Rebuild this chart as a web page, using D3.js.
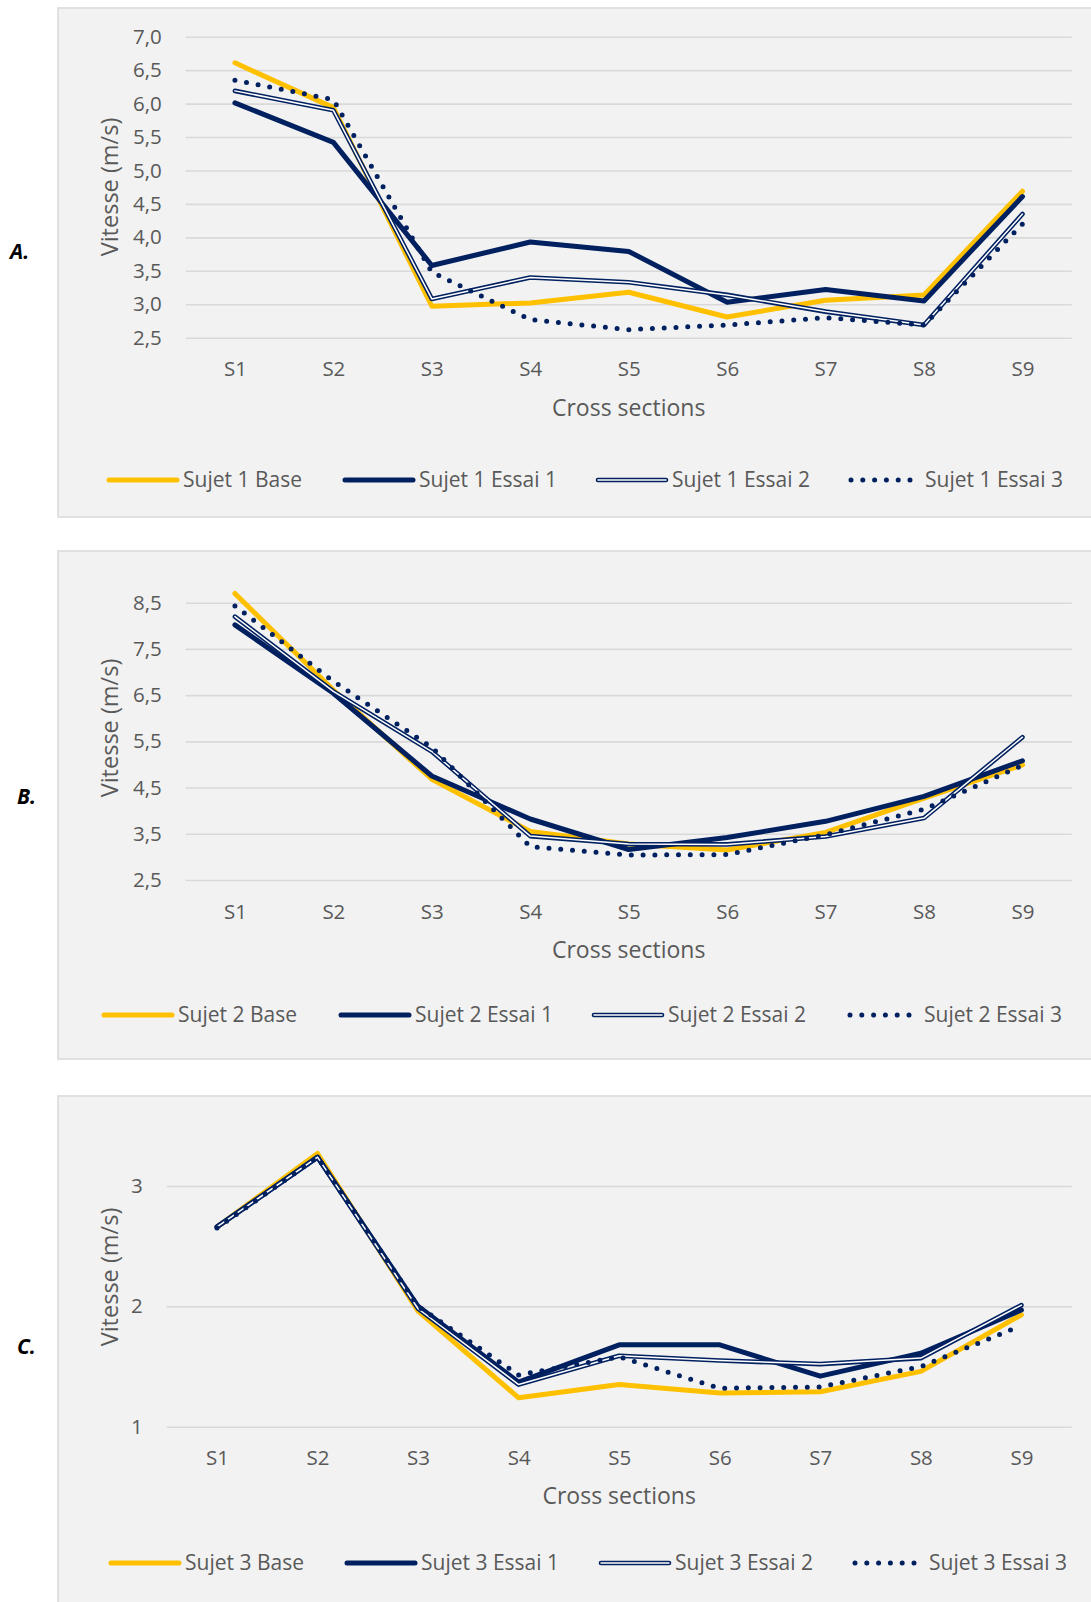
<!DOCTYPE html>
<html>
<head>
<meta charset="utf-8">
<script src="https://cdn.jsdelivr.net/npm/d3@7"></script>
<style>
  html, body { margin: 0; padding: 0; background: #ffffff; }
  svg { display: block; }
  text { font-family: "Open Sans", "Noto Sans", sans-serif; fill: #595959; }
</style>
</head>
<body>
<svg id="chart" width="1091" height="1602"></svg>
<script>
// ---------- DATA ----------
const categories = ["S1", "S2", "S3", "S4", "S5", "S6", "S7", "S8", "S9"];
const seriesKinds = ["Base", "Essai 1", "Essai 2", "Essai 3"];

const sujet1Base   = [6.61, 5.94, 2.97, 3.02, 3.18, 2.81, 3.06, 3.14, 4.69];
const sujet1Essai1 = [6.01, 5.42, 3.58, 3.93, 3.79, 3.03, 3.22, 3.05, 4.61];
const sujet1Essai2 = [6.19, 5.90, 3.08, 3.40, 3.33, 3.14, 2.89, 2.69, 4.35];
const sujet1Essai3 = [6.35, 6.06, 3.48, 2.77, 2.62, 2.69, 2.80, 2.69, 4.20];

const sujet2Base   = [8.70, 6.61, 4.68, 3.55, 3.28, 3.15, 3.53, 4.27, 4.99];
const sujet2Essai1 = [8.02, 6.54, 4.75, 3.82, 3.16, 3.42, 3.77, 4.31, 5.08];
const sujet2Essai2 = [8.20, 6.58, 5.28, 3.45, 3.28, 3.27, 3.44, 3.84, 5.59];
const sujet2Essai3 = [8.43, 6.80, 5.37, 3.22, 3.04, 3.05, 3.48, 4.03, 4.98];

const sujet3Base   = [2.66, 3.27, 1.96, 1.24, 1.35, 1.28, 1.29, 1.46, 1.93];
const sujet3Essai1 = [2.66, 3.24, 2.00, 1.37, 1.68, 1.68, 1.42, 1.61, 1.97];
const sujet3Essai2 = [2.66, 3.24, 1.98, 1.35, 1.59, 1.55, 1.52, 1.57, 2.01];
const sujet3Essai3 = [2.65, 3.24, 2.00, 1.43, 1.58, 1.32, 1.33, 1.50, 1.84];

const ticksA = [2.5, 3.0, 3.5, 4.0, 4.5, 5.0, 5.5, 6.0, 6.5, 7.0];
const ticksB = [2.5, 3.5, 4.5, 5.5, 6.5, 7.5, 8.5];
const ticksC = [1, 2, 3];

const yTitle = "Vitesse (m/s)";
const xTitle = "Cross sections";

// ---------- STYLE ----------
const YELLOW = "#FFC000";
const NAVY = "#002060";
const GRID = "#D9D9D9";
const BG = "#F2F2F2";

const svg = d3.select("#chart");

const panels = [
  { letter: "A.", subject: 1, series: [sujet1Base, sujet1Essai1, sujet1Essai2, sujet1Essai3],
    ticks: ticksA, fmt: v => d3.format(".1f")(v).replace(".", ","),
    box: [58, 8, 1100, 517], left: 185.7, right: 1071.7,
    yDomain: [2.5, 7.0], yRange: [337.7, 36.7],
    yTitleY: 187, xTitleY: 408, letterX: 10, letterY: 252,
    legendY: 480, legendX: [107, 343, 596, 849] },
  { letter: "B.", subject: 2, series: [sujet2Base, sujet2Essai1, sujet2Essai2, sujet2Essai3],
    ticks: ticksB, fmt: v => d3.format(".1f")(v).replace(".", ","),
    box: [58, 551, 1100, 1059], left: 185.7, right: 1071.7,
    yDomain: [2.5, 8.5], yRange: [880.0, 602.7],
    yTitleY: 728, xTitleY: 950, letterX: 17, letterY: 797,
    legendY: 1015, legendX: [102, 339, 592, 848] },
  { letter: "C.", subject: 3, series: [sujet3Base, sujet3Essai1, sujet3Essai2, sujet3Essai3],
    ticks: ticksC, fmt: v => d3.format("d")(v),
    box: [58, 1096, 1100, 1640], left: 166.7, right: 1071.7,
    yDomain: [1, 3], yRange: [1426.7, 1186.0],
    yTitleY: 1277, xTitleY: 1496, letterX: 17, letterY: 1347,
    legendY: 1563, legendX: [109, 345, 599, 853] }
];

function drawSeriesPath(g, d, kind) {
  if (kind === 0) {
    g.append("path").attr("d", d).attr("fill", "none").attr("stroke", YELLOW)
      .attr("stroke-width", 5).attr("stroke-linejoin", "round").attr("stroke-linecap", "round");
  } else if (kind === 1) {
    g.append("path").attr("d", d).attr("fill", "none").attr("stroke", NAVY)
      .attr("stroke-width", 5).attr("stroke-linejoin", "round").attr("stroke-linecap", "round");
  } else if (kind === 2) {
    g.append("path").attr("d", d).attr("fill", "none").attr("stroke", NAVY)
      .attr("stroke-width", 4.6).attr("stroke-linejoin", "round").attr("stroke-linecap", "round");
    g.append("path").attr("d", d).attr("fill", "none").attr("stroke", "#ffffff")
      .attr("stroke-width", 1.5).attr("stroke-linejoin", "round").attr("stroke-linecap", "round");
  } else {
    g.append("path").attr("d", d).attr("fill", "none").attr("stroke", NAVY)
      .attr("stroke-width", 5).attr("stroke-dasharray", "0 11.8").attr("stroke-linecap", "round");
  }
}

panels.forEach(p => {
  const [bx0, by0, bx1, by1] = p.box;
  svg.append("rect").attr("x", bx0).attr("y", by0).attr("width", bx1 - bx0).attr("height", by1 - by0)
    .attr("fill", BG).attr("stroke", GRID).attr("stroke-width", 1.5);

  const x = d3.scalePoint().domain(categories).range([p.left, p.right]).padding(0.5);
  const y = d3.scaleLinear().domain(p.yDomain).range(p.yRange);
  const width = p.right - p.left;

  // y axis with gridlines
  const yAxis = d3.axisLeft(y).tickValues(p.ticks).tickFormat(p.fmt)
    .tickSize(-width).tickPadding(24);
  const gy = svg.append("g").attr("transform", `translate(${p.left},0)`).call(yAxis);
  gy.select(".domain").remove();
  gy.selectAll(".tick line").attr("stroke", GRID).attr("stroke-width", 1.6);
  gy.selectAll(".tick text").attr("font-size", 20.5).attr("fill", "#595959")
    .attr("font-family", "'Open Sans', sans-serif");

  // x axis labels
  const xAxis = d3.axisBottom(x).tickSize(0).tickPadding(24);
  const gx = svg.append("g").attr("transform", `translate(0,${p.yRange[0]})`).call(xAxis);
  gx.select(".domain").remove();
  gx.selectAll(".tick text").attr("font-size", 20.5).attr("fill", "#595959")
    .attr("font-family", "'Open Sans', sans-serif");

  // titles
  svg.append("text").attr("transform", `translate(110,${p.yTitleY}) rotate(-90)`)
    .attr("text-anchor", "middle").attr("dy", "0.35em").attr("font-size", 23.5).text(yTitle);
  svg.append("text").attr("x", (p.left + p.right) / 2).attr("y", p.xTitleY)
    .attr("text-anchor", "middle").attr("dy", "0.35em").attr("font-size", 23).text(xTitle);

  // panel letter
  svg.append("text").attr("x", p.letterX).attr("y", p.letterY).attr("dy", "0.35em")
    .attr("font-family", "'Liberation Sans', Arial, sans-serif").attr("font-weight", "bold")
    .attr("font-style", "italic").attr("font-size", 21).style("fill", "#000000").text(p.letter);

  // series lines
  const line = d3.line().x((v, i) => x(categories[i])).y(v => y(v));
  const gl = svg.append("g");
  p.series.forEach((vals, k) => drawSeriesPath(gl, line(vals), k));

  // legend
  const lg = svg.append("g");
  seriesKinds.forEach((name, k) => {
    const lx = p.legendX[k];
    const len = k === 3 ? 64 : 70;
    const d = d3.line()([[lx + 2, p.legendY], [lx + len, p.legendY]]);
    drawSeriesPath(lg, d, k);
    lg.append("text").attr("x", lx + 76).attr("y", p.legendY).attr("dy", "0.35em")
      .attr("font-size", 21).text(`Sujet ${p.subject} ${name}`);
  });
});
</script>
</body>
</html>
